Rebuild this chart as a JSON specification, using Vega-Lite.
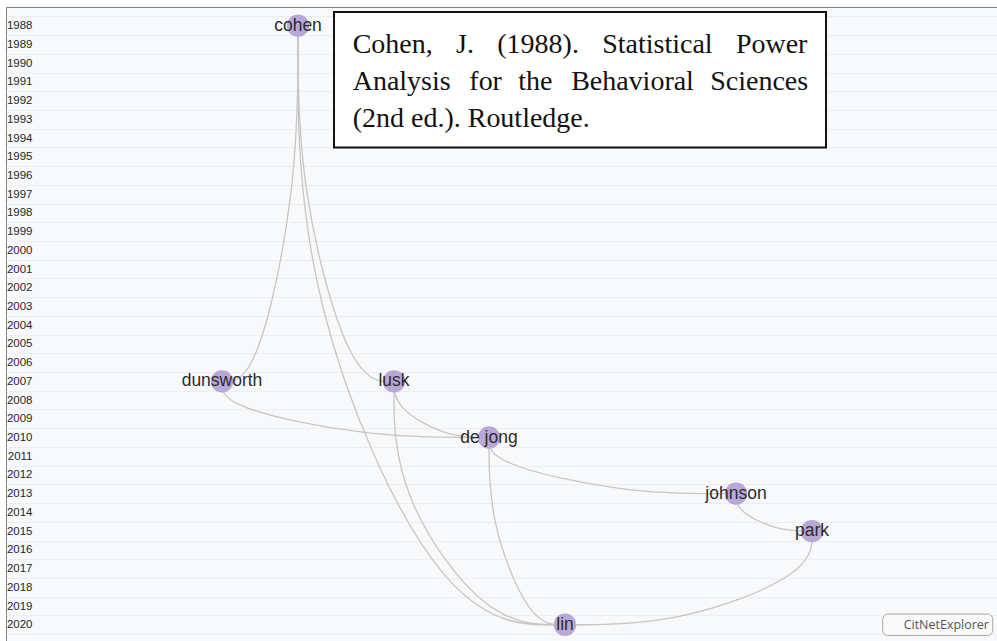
{
  "$schema": "https://vega.github.io/schema/vega-lite/v6.json",
  "width": 1000,
  "height": 645.84,
  "padding": {"left": 6, "top": 7, "right": 0, "bottom": 0},
  "autosize": {"type": "pad"},
  "background": "white",
  "config": {
    "view": {"fill": "#f8f9fb", "stroke": "#808080", "strokeWidth": 1},
    "font": "Liberation Sans"
  },
  "datasets": {
    "nodes": [
      {"label": "cohen", "year": 1988, "x": 292},
      {"label": "dunsworth", "year": 2007, "x": 216},
      {"label": "lusk", "year": 2007, "x": 388},
      {"label": "de jong", "year": 2010, "x": 483},
      {"label": "johnson", "year": 2013, "x": 730},
      {"label": "park", "year": 2015, "x": 806},
      {"label": "lin", "year": 2020, "x": 559}
    ],
    "edges": [
      {"edge": "cohen-dunsworth", "step": 0, "x": 292, "year": 1988},
      {"edge": "cohen-dunsworth", "step": 1, "x": 292, "year": 1996.55},
      {"edge": "cohen-dunsworth", "step": 2, "x": 250.2, "year": 2007},
      {"edge": "cohen-dunsworth", "step": 3, "x": 216, "year": 2007},
      {"edge": "cohen-lusk", "step": 0, "x": 292, "year": 1988},
      {"edge": "cohen-lusk", "step": 1, "x": 292, "year": 1996.55},
      {"edge": "cohen-lusk", "step": 2, "x": 344.8, "year": 2007},
      {"edge": "cohen-lusk", "step": 3, "x": 388, "year": 2007},
      {"edge": "cohen-lin", "step": 0, "x": 292, "year": 1988},
      {"edge": "cohen-lin", "step": 1, "x": 292, "year": 2002.4},
      {"edge": "cohen-lin", "step": 2, "x": 438.85, "year": 2020},
      {"edge": "cohen-lin", "step": 3, "x": 559, "year": 2020},
      {"edge": "dunsworth-dejong", "step": 0, "x": 216, "year": 2007},
      {"edge": "dunsworth-dejong", "step": 1, "x": 216, "year": 2008.35},
      {"edge": "dunsworth-dejong", "step": 2, "x": 362.85, "year": 2010},
      {"edge": "dunsworth-dejong", "step": 3, "x": 483, "year": 2010},
      {"edge": "lusk-dejong", "step": 0, "x": 388, "year": 2007},
      {"edge": "lusk-dejong", "step": 1, "x": 388, "year": 2008.35},
      {"edge": "lusk-dejong", "step": 2, "x": 440.25, "year": 2010},
      {"edge": "lusk-dejong", "step": 3, "x": 483, "year": 2010},
      {"edge": "lusk-lin", "step": 0, "x": 388, "year": 2007},
      {"edge": "lusk-lin", "step": 1, "x": 388, "year": 2012.85},
      {"edge": "lusk-lin", "step": 2, "x": 482.05, "year": 2020},
      {"edge": "lusk-lin", "step": 3, "x": 559, "year": 2020},
      {"edge": "dejong-johnson", "step": 0, "x": 483, "year": 2010},
      {"edge": "dejong-johnson", "step": 1, "x": 483, "year": 2011.35},
      {"edge": "dejong-johnson", "step": 2, "x": 618.85, "year": 2013},
      {"edge": "dejong-johnson", "step": 3, "x": 730, "year": 2013},
      {"edge": "dejong-lin", "step": 0, "x": 483, "year": 2010},
      {"edge": "dejong-lin", "step": 1, "x": 483, "year": 2014.5},
      {"edge": "dejong-lin", "step": 2, "x": 524.8, "year": 2020},
      {"edge": "dejong-lin", "step": 3, "x": 559, "year": 2020},
      {"edge": "johnson-park", "step": 0, "x": 730, "year": 2013},
      {"edge": "johnson-park", "step": 1, "x": 730, "year": 2013.9},
      {"edge": "johnson-park", "step": 2, "x": 771.8, "year": 2015},
      {"edge": "johnson-park", "step": 3, "x": 806, "year": 2015},
      {"edge": "park-lin", "step": 0, "x": 806, "year": 2015},
      {"edge": "park-lin", "step": 1, "x": 806, "year": 2017.25},
      {"edge": "park-lin", "step": 2, "x": 670.15, "year": 2020},
      {"edge": "park-lin", "step": 3, "x": 559, "year": 2020}
    ]
  },
  "layer": [
    {
      "data": {"name": "edges"},
      "mark": {"type": "line", "interpolate": "basis", "stroke": "#c6c6c6", "strokeWidth": 1.3},
      "encoding": {
        "x": {"field": "x", "type": "quantitative", "scale": {"domain": [0, 1000], "nice": false, "zero": false}, "axis": null},
        "y": {
          "field": "year", "type": "quantitative",
          "scale": {"domain": [1987, 2021.5], "reverse": true, "nice": false, "zero": false},
          "axis": {
            "orient": "left", "offset": -27, "title": null,
            "values": [1988, 1989, 1990, 1991, 1992, 1993, 1994, 1995, 1996, 1997, 1998, 1999, 2000, 2001, 2002, 2003, 2004, 2005, 2006, 2007, 2008, 2009, 2010, 2011, 2012, 2013, 2014, 2015, 2016, 2017, 2018, 2019, 2020, 2021],
            "tickCount": 200,
            "format": "d",
            "labelExpr": "datum.value > 2020 ? '' : datum.label",
            "labelOverlap": false, "labelBound": false, "labelFlush": false,
            "domain": false, "ticks": false, "tickSize": 0,
            "labelPadding": 1, "labelFontSize": 11.5, "labelColor": "#262626", "labelFont": "Liberation Sans",
            "labelBaseline": "middle",
            "grid": true, "gridColor": "#eceef1", "gridWidth": 1,
            "tickOffset": -9.36, "labelOffset": 9.36
          }
        },
        "detail": {"field": "edge"},
        "order": {"field": "step", "type": "quantitative"}
      }
    },
    {
      "data": {"name": "nodes"},
      "mark": {"type": "circle", "size": 500, "color": "#b8a8d8", "opacity": 1},
      "encoding": {
        "x": {"field": "x", "type": "quantitative"},
        "y": {"field": "year", "type": "quantitative"}
      }
    },
    {
      "data": {"name": "nodes"},
      "mark": {"type": "text", "font": "Liberation Sans", "fontSize": 17.5, "color": "#2b2b2b", "align": "center", "baseline": "middle"},
      "encoding": {
        "x": {"field": "x", "type": "quantitative"},
        "y": {"field": "year", "type": "quantitative"},
        "text": {"field": "label"}
      }
    },
    {
      "data": {"values": [{}]},
      "mark": {"type": "rect", "fill": "white", "stroke": "#111111", "strokeWidth": 2},
      "encoding": {
        "x": {"datum": 328, "type": "quantitative"},
        "x2": {"datum": 820},
        "y": {"datum": 1987.27, "type": "quantitative"},
        "y2": {"datum": 1994.5}
      }
    },
    {
      "data": {"values": [{}]},
      "mark": {
        "type": "text", "font": "Liberation Serif", "fontSize": 28, "color": "#111111",
        "align": "left", "baseline": "alphabetic", "lineHeight": 37.2,
        "text": ["Cohen,\u2002\u2004J.\u2002\u2004(1988).\u2002\u2004Statistical\u2002\u2004Power", "Analysis\u2004\u2005\u200Afor\u2004\u2005the\u2004\u2005\u200ABehavioral\u2004\u2005Sciences", "(2nd ed.). Routledge."]
      },
      "encoding": {
        "x": {"datum": 346.7, "type": "quantitative"},
        "y": {"datum": 1989.46, "type": "quantitative"}
      }
    },
    {
      "data": {"values": [{}]},
      "mark": {"type": "rect", "fill": "#fafafa", "stroke": "#a8a8a8", "strokeWidth": 1, "cornerRadius": 5},
      "encoding": {
        "x": {"datum": 876.7, "type": "quantitative"},
        "x2": {"datum": 986.7},
        "y": {"datum": 2019.43, "type": "quantitative"},
        "y2": {"datum": 2020.57}
      }
    },
    {
      "data": {"values": [{}]},
      "mark": {"type": "text", "font": "Open Sans", "fontSize": 12.5, "color": "#555555", "align": "center", "baseline": "middle", "text": "CitNetExplorer"},
      "encoding": {
        "x": {"datum": 940.3, "type": "quantitative"},
        "y": {"datum": 2020, "type": "quantitative"}
      }
    }
  ]
}
